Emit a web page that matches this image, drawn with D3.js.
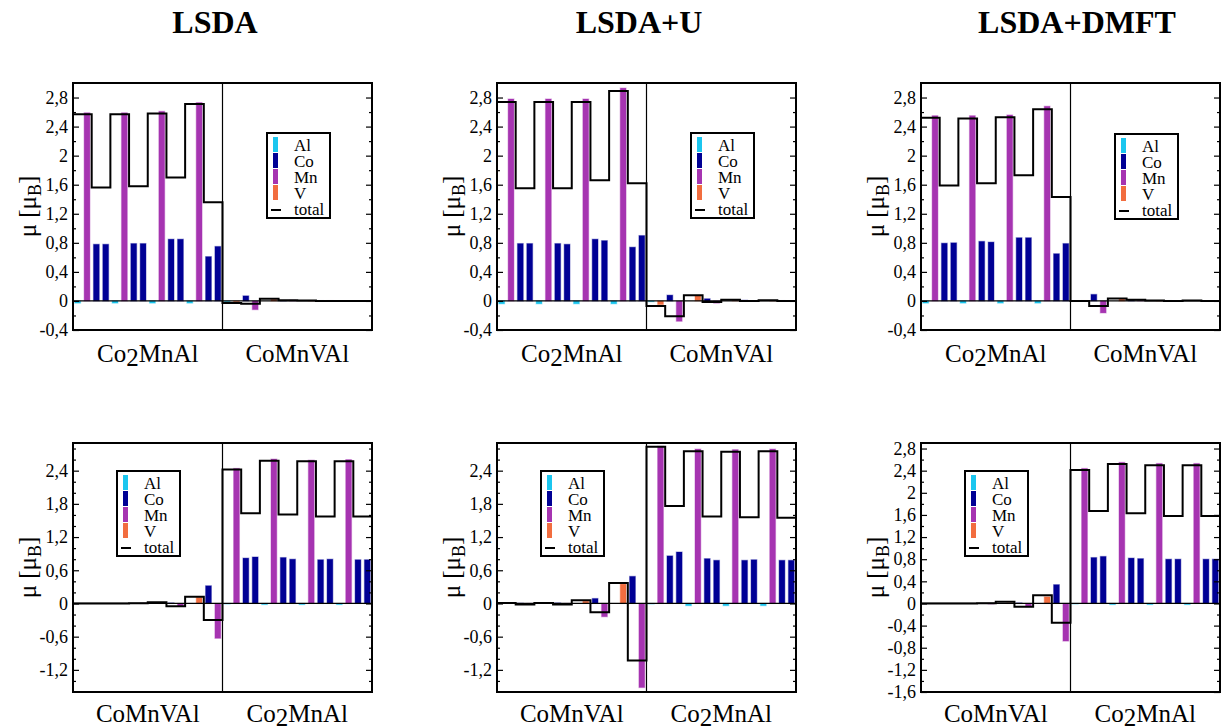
<!DOCTYPE html>
<html><head><meta charset="utf-8">
<script src="https://cdn.jsdelivr.net/npm/d3@7"></script>
<style>
body{margin:0;background:#fff;}
svg{display:block;}
text{font-family:"Liberation Serif","Times New Roman",serif;fill:#000;}
</style>
</head><body>
<svg id="chart" width="1225" height="727"></svg>
<script>
// ---------------- data ----------------
const methods = ["LSDA", "LSDA+U", "LSDA+DMFT"];
const elements = ["Al", "Co", "Mn", "V"];
const elementColors = ["#1bc6ef", "#000095", "#a634b1", "#f26d3f"];
const legendLabels = ["Al", "Co", "Mn", "V", "total"];

const topHalfLabels = ["Co2MnAl", "CoMnVAl"];
const bottomHalfLabels = ["CoMnVAl", "Co2MnAl"];

// element on each of the 32 atomic slots
const topSlots = [
  "Al","Mn","Co","Co","Al","Mn","Co","Co","Al","Mn","Co","Co","Al","Mn","Co","Co",
  "Al","V","Co","Mn","Al","V","Co","Mn","Al","V","Co","Mn","Al","V","Co","Mn"];
const bottomSlots = [
  "Al","V","Co","Mn","Al","V","Co","Mn","Al","V","Co","Mn","Al","V","Co","Mn",
  "Al","Mn","Co","Co","Al","Mn","Co","Co","Al","Mn","Co","Co","Al","Mn","Co","Co"];

// atomic moments (mu_B), top row
const topLSDA = [
  -0.03, 2.59, 0.78, 0.78, -0.03, 2.59, 0.79, 0.79, -0.03, 2.61, 0.85, 0.85, -0.03, 2.73, 0.61, 0.75,
  -0.01, -0.01, 0.07, -0.12, 0.0, 0.02, 0.005, 0.01, 0.0, 0.005, 0.005, 0.005, 0.0, 0.0, 0.0, 0.0];
const topLSDATotal = [2.57, 1.56, 2.57, 1.58, 2.58, 1.70, 2.71, 1.36,
  -0.03, -0.04, 0.03, 0.01, 0.005, 0.0, 0.0, 0.0];

const topLSDAU = [
  -0.04, 2.78, 0.79, 0.79, -0.04, 2.78, 0.79, 0.78, -0.04, 2.78, 0.85, 0.83, -0.04, 2.93, 0.74, 0.90,
  -0.01, -0.05, 0.08, -0.28, 0.0, 0.07, 0.03, -0.03, 0.0, 0.01, 0.01, -0.005, 0.0, 0.005, 0.005, 0.0];
const topLSDAUTotal = [2.74, 1.55, 2.74, 1.55, 2.74, 1.66, 2.89, 1.62,
  -0.07, -0.21, 0.08, -0.015, 0.015, 0.0, 0.01, 0.0];

const topDMFT = [
  -0.03, 2.55, 0.795, 0.80, -0.03, 2.55, 0.82, 0.81, -0.03, 2.56, 0.87, 0.87, -0.03, 2.68, 0.65, 0.79,
  0.0, 0.005, 0.09, -0.165, 0.0, 0.025, 0.01, 0.005, 0.0, 0.005, 0.005, 0.0, 0.0, 0.0, 0.0, 0.0];
const topDMFTTotal = [2.52, 1.59, 2.51, 1.62, 2.53, 1.73, 2.64, 1.43,
  0.0, -0.07, 0.035, 0.015, 0.005, 0.0, 0.005, 0.0];

// bottom row
const bottomLSDA = [
  0.0, 0.0, 0.0, 0.0, 0.0, 0.0, 0.0, 0.005, 0.0, 0.005, 0.01, -0.05, 0.0, 0.11, 0.32, -0.63,
  -0.01, 2.44, 0.82, 0.84, -0.02, 2.61, 0.83, 0.80, -0.02, 2.59, 0.79, 0.80, -0.02, 2.60, 0.79, 0.79];
const bottomLSDATotal = [0.0, 0.0, 0.0, 0.005, 0.02, -0.05, 0.12, -0.30,
  2.42, 1.63, 2.58, 1.61, 2.57, 1.57, 2.57, 1.57];

const bottomLSDAU = [
  0.0, 0.0, 0.005, -0.01, 0.0, 0.0, 0.01, -0.01, 0.0, 0.04, 0.09, -0.24, 0.0, 0.35, 0.49, -1.52,
  -0.01, 2.84, 0.86, 0.93, -0.04, 2.79, 0.81, 0.78, -0.04, 2.78, 0.78, 0.79, -0.04, 2.79, 0.78, 0.78];
const bottomLSDAUTotal = [0.01, -0.02, 0.01, -0.02, 0.06, -0.16, 0.37, -1.03,
  2.83, 1.76, 2.75, 1.57, 2.74, 1.56, 2.75, 1.55];

const bottomDMFT = [
  0.0, 0.0, 0.0, 0.0, 0.0, 0.0, 0.0, -0.01, 0.0, 0.01, 0.01, -0.06, 0.0, 0.12, 0.34, -0.68,
  -0.01, 2.44, 0.83, 0.85, -0.02, 2.55, 0.82, 0.81, -0.02, 2.53, 0.80, 0.80, -0.02, 2.53, 0.80, 0.80];
const bottomDMFTTotal = [0.0, 0.0, 0.0, 0.005, 0.03, -0.06, 0.15, -0.35,
  2.41, 1.67, 2.52, 1.63, 2.50, 1.58, 2.50, 1.58];

// axes
const topDomain = [-0.4, 3.0];
const bottomDomain = [-1.6, 2.9];
const topTicks = [-0.4, 0, 0.4, 0.8, 1.2, 1.6, 2, 2.4, 2.8];
const topTickLabels = ["-0,4", "0", "0,4", "0,8", "1,2", "1,6", "2", "2,4", "2,8"];
const topMinorTicks = [-0.2, 0.2, 0.6, 1.0, 1.4, 1.8, 2.2, 2.6];
const bottomTicksA = [-1.2, -0.6, 0, 0.6, 1.2, 1.8, 2.4];
const bottomTickLabelsA = ["-1,2", "-0,6", "0", "0,6", "1,2", "1,8", "2,4"];
const bottomMinorTicksA = [-1.4, -1.0, -0.8, -0.4, -0.2, 0.2, 0.4, 0.8, 1.0, 1.4, 1.6, 2.0, 2.2, 2.6, 2.8];
const bottomTicksB = [-1.6, -1.2, -0.8, -0.4, 0, 0.4, 0.8, 1.2, 1.6, 2, 2.4, 2.8];
const bottomTickLabelsB = ["-1,6", "-1,2", "-0,8", "-0,4", "0", "0,4", "0,8", "1,2", "1,6", "2", "2,4", "2,8"];
const bottomMinorTicksB = [-1.4, -1.0, -0.6, -0.2, 0.2, 0.6, 1.0, 1.4, 1.8, 2.2, 2.6];

// ---------------- layout ----------------
const FONT = "'Liberation Serif','Times New Roman',serif";
const svg = d3.select("#chart");
const panelLefts = [73, 497, 921];
const panelW = 299;
const rowTops = [83, 443];
const rowBottoms = [330, 692];
const titleX = [215, 639, 1077];
const color = d3.scaleOrdinal().domain(elements).range(elementColors);

const panels = [
  {col:0,row:0,slots:topSlots,values:topLSDA,total:topLSDATotal,domain:topDomain,ticks:topTicks,labels:topTickLabels,minor:topMinorTicks,halves:topHalfLabels,legendDx:194,legendY:133},
  {col:1,row:0,slots:topSlots,values:topLSDAU,total:topLSDAUTotal,domain:topDomain,ticks:topTicks,labels:topTickLabels,minor:topMinorTicks,halves:topHalfLabels,legendDx:194,legendY:133},
  {col:2,row:0,slots:topSlots,values:topDMFT,total:topDMFTTotal,domain:topDomain,ticks:topTicks,labels:topTickLabels,minor:topMinorTicks,halves:topHalfLabels,legendDx:194,legendY:134},
  {col:0,row:1,slots:bottomSlots,values:bottomLSDA,total:bottomLSDATotal,domain:bottomDomain,ticks:bottomTicksA,labels:bottomTickLabelsA,minor:bottomMinorTicksA,halves:bottomHalfLabels,legendDx:44,legendY:471},
  {col:1,row:1,slots:bottomSlots,values:bottomLSDAU,total:bottomLSDAUTotal,domain:bottomDomain,ticks:bottomTicksA,labels:bottomTickLabelsA,minor:bottomMinorTicksA,halves:bottomHalfLabels,legendDx:44,legendY:471},
  {col:2,row:1,slots:bottomSlots,values:bottomDMFT,total:bottomDMFTTotal,domain:bottomDomain,ticks:bottomTicksB,labels:bottomTickLabelsB,minor:bottomMinorTicksB,halves:bottomHalfLabels,legendDx:44,legendY:471}
];

// titles
svg.selectAll("text.title").data(methods).join("text")
  .attr("class","title")
  .attr("x",(d,i)=>titleX[i]).attr("y",33)
  .attr("text-anchor","middle")
  .style("font-family", FONT)
  .style("font-size","32px").style("font-weight","bold")
  .text(d=>d);

function halfLabel(g, label, cx, baseline) {
  const t = g.append("text").attr("x", cx).attr("y", baseline)
    .attr("text-anchor","middle").style("font-family", FONT).style("font-size","25px");
  const m = label.match(/^(Co)(2)(MnAl)$/);
  if (m) {
    t.append("tspan").text(m[1]);
    t.append("tspan").attr("dy", 4).text(m[2]);
    t.append("tspan").attr("dy", -4).text(m[3]);
  } else {
    t.text(label);
  }
}

panels.forEach(p => {
  const x0 = panelLefts[p.col], x1 = x0 + panelW;
  const yTop = rowTops[p.row], yBot = rowBottoms[p.row];
  const g = svg.append("g");
  const x = d3.scaleLinear().domain([0, 32]).range([x0, x1]);
  const y = d3.scaleLinear().domain(p.domain).range([yBot, yTop]);
  const slotW = x(1) - x(0);
  const bw = slotW * 0.62;

  // bars
  const barData = p.values.map((v, i) => ({v, i, el: p.slots[i]})).filter(d => d.v !== 0);
  g.selectAll("rect.bar").data(barData).join("rect")
    .attr("class","bar")
    .attr("x", d => x(d.i + 0.5) - bw / 2)
    .attr("width", bw)
    .attr("y", d => y(Math.max(0, d.v)))
    .attr("height", d => Math.abs(y(d.v) - y(0)))
    .attr("fill", d => color(d.el))
    .attr("stroke", d => color(d.el))
    .attr("stroke-opacity", 0.35)
    .attr("stroke-width", 1.2);

  // zero line
  g.append("line").attr("x1", x0).attr("x2", x1).attr("y1", y(0)).attr("y2", y(0))
    .attr("stroke", "#000").attr("stroke-width", 1.3);

  // total step line
  const pts = p.total.map((t, k) => [2 * k, t]);
  pts.push([32, p.total[p.total.length - 1]]);
  const line = d3.line().x(d => x(d[0])).y(d => y(d[1])).curve(d3.curveStepAfter);
  g.append("path").attr("d", line(pts)).attr("fill","none")
    .attr("stroke","#000").attr("stroke-width", 2);

  // divider
  g.append("line").attr("x1", x(16)).attr("x2", x(16)).attr("y1", yTop).attr("y2", yBot)
    .attr("stroke","#000").attr("stroke-width", 1.2);

  // axes (inward ticks)
  const fmt = d => p.labels[p.ticks.indexOf(d)];
  const left = g.append("g").attr("transform", `translate(${x0},0)`)
    .call(d3.axisLeft(y).tickValues(p.ticks).tickSizeInner(-6).tickSizeOuter(0).tickPadding(5).tickFormat(fmt));
  left.attr("font-family", null);
  left.select(".domain").remove();
  left.selectAll("text").style("font-size","18px").style("font-family", FONT);
  left.selectAll("line").attr("stroke-width", 1.2);
  const leftMinor = g.append("g").attr("transform", `translate(${x0},0)`)
    .call(d3.axisLeft(y).tickValues(p.minor).tickSizeInner(-3).tickSizeOuter(0).tickFormat(""));
  leftMinor.select(".domain").remove();
  leftMinor.selectAll("line").attr("stroke-width", 1.2);
  const right = g.append("g").attr("transform", `translate(${x1},0)`)
    .call(d3.axisRight(y).tickValues(p.ticks).tickSizeInner(-6).tickSizeOuter(0).tickFormat(""));
  right.select(".domain").remove();
  right.selectAll("line").attr("stroke-width", 1.2);
  const rightMinor = g.append("g").attr("transform", `translate(${x1},0)`)
    .call(d3.axisRight(y).tickValues(p.minor).tickSizeInner(-3).tickSizeOuter(0).tickFormat(""));
  rightMinor.select(".domain").remove();
  rightMinor.selectAll("line").attr("stroke-width", 1.2);

  // frame
  g.append("rect").attr("x", x0).attr("y", yTop).attr("width", panelW).attr("height", yBot - yTop)
    .attr("fill","none").attr("stroke","#000").attr("stroke-width", 2);

  // y label
  const cy = (yTop + yBot) / 2;
  const yl = g.append("text").attr("transform", `translate(${x0 - 37},${cy}) rotate(-90)`)
    .attr("text-anchor","middle").style("font-family", FONT).style("font-size","25px");
  yl.append("tspan").text("μ [μ");
  yl.append("tspan").attr("dy", 5).style("font-size","18px").text("B");
  yl.append("tspan").attr("dy", -5).text("]");

  // half labels
  const baseline = p.row === 0 ? 362 : 722;
  halfLabel(g, p.halves[0], x(8), baseline);
  halfLabel(g, p.halves[1], x(24), baseline);

  // legend
  const lx = x0 + p.legendDx, ly = p.legendY;
  const lg = g.append("g").attr("transform", `translate(${lx},${ly})`);
  lg.append("rect").attr("width", 63).attr("height", 85).attr("fill","#fff")
    .attr("stroke","#000").attr("stroke-width", 2);
  const rows = lg.selectAll("g.row").data(legendLabels).join("g").attr("class","row")
    .attr("transform", (d, i) => `translate(0,${4 + i * 16})`);
  rows.filter(d => d !== "total").append("rect")
    .attr("x", 6).attr("y", 0).attr("width", 5).attr("height", 15)
    .attr("fill", d => color(d));
  rows.filter(d => d === "total").append("line")
    .attr("x1", 4).attr("x2", 14).attr("y1", 9).attr("y2", 9)
    .attr("stroke","#000").attr("stroke-width", 2);
  rows.append("text").attr("x", 27).attr("y", 14)
    .style("font-family", FONT).style("font-size","17px").text(d => d);
});
</script>
</body></html>
